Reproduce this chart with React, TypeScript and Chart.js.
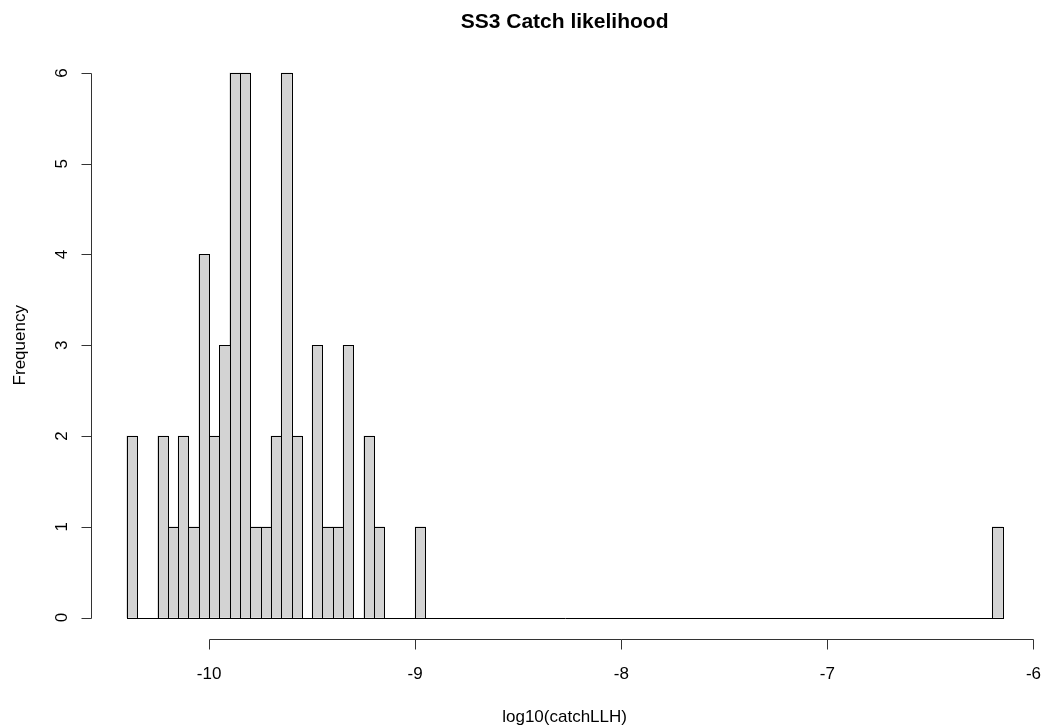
import React, { useEffect, useRef } from "react";
import { Chart, registerables } from "chart.js";

Chart.register(...registerables);

// Histogram of log10(catchLLH), bin width 0.05 (only non-empty bins listed)
const binWidth = 0.05;
const binLeft = [
  -10.4, -10.25, -10.2, -10.15, -10.1, -10.05, -10.0, -9.95, -9.9, -9.85,
  -9.8, -9.75, -9.7, -9.65, -9.6, -9.5, -9.45, -9.4, -9.35, -9.25, -9.2,
  -9.0, -6.2,
];
const counts = [
  2, 2, 1, 2, 1, 4, 2, 3, 6, 6,
  1, 1, 2, 6, 2, 3, 1, 1, 3, 2, 1,
  1, 1,
];
const breaksRange = [-10.4, -6.15];
const xTicks = [-10, -9, -8, -7, -6];
const yTicks = [0, 1, 2, 3, 4, 5, 6];

const titleText = "SS3 Catch likelihood";
const xLabel = "log10(catchLLH)";
const yLabel = "Frequency";

const FONT = "'Liberation Sans', Arial, sans-serif";

// Axis ranges extended by 4% like base graphics
const xSpan = breaksRange[1] - breaksRange[0];
const xMin = breaksRange[0] - 0.04 * xSpan;
const xMax = breaksRange[1] + 0.04 * xSpan;
const yTop = Math.max(...counts);
const yMin = -0.04 * yTop;
const yMax = yTop + 0.04 * yTop;

const decorPlugin = {
  id: "baseDecor",
  afterDatasetsDraw(chart: any) {
    const ctx = chart.ctx as CanvasRenderingContext2D;
    const xs = chart.scales.x;
    const ys = chart.scales.y;
    const area = chart.chartArea;

    ctx.save();
    ctx.strokeStyle = "#000";
    ctx.lineWidth = 1;

    // baseline across the empty bins
    const baseY = Math.round(ys.getPixelForValue(0)) + 0.5;
    ctx.beginPath();
    ctx.moveTo(Math.round(xs.getPixelForValue(breaksRange[0])) + 0.5, baseY);
    ctx.lineTo(Math.round(xs.getPixelForValue(breaksRange[1])) + 0.5, baseY);
    ctx.stroke();

    // bar outlines
    const meta = chart.getDatasetMeta(0);
    meta.data.forEach((bar: any) => {
      const props = bar.getProps(["x", "y", "base", "width"], true);
      const l = Math.round(props.x - props.width / 2) + 0.5;
      const r = Math.round(props.x + props.width / 2) + 0.5;
      const t = Math.round(props.y) + 0.5;
      const b = Math.round(props.base) + 0.5;
      ctx.strokeRect(l, t, r - l, b - t);
    });

    // x axis
    ctx.strokeStyle = "#333";
    const axY = Math.round(area.bottom) + 0.5;
    const x0 = Math.round(xs.getPixelForValue(xTicks[0])) + 0.5;
    const x1 = Math.round(xs.getPixelForValue(xTicks[xTicks.length - 1])) + 0.5;
    ctx.beginPath();
    ctx.moveTo(x0, axY);
    ctx.lineTo(x1, axY);
    xTicks.forEach((v) => {
      const px = Math.round(xs.getPixelForValue(v)) + 0.5;
      ctx.moveTo(px, axY);
      ctx.lineTo(px, axY + 10);
    });
    ctx.stroke();

    ctx.fillStyle = "#000";
    ctx.font = `17px ${FONT}`;
    ctx.textAlign = "center";
    ctx.textBaseline = "alphabetic";
    xTicks.forEach((v) => {
      ctx.fillText(String(v), xs.getPixelForValue(v), 679);
    });

    // y axis
    const axX = Math.round(area.left) - 0.5;
    const y0 = Math.round(ys.getPixelForValue(yTicks[0])) + 0.5;
    const y1 = Math.round(ys.getPixelForValue(yTicks[yTicks.length - 1])) + 0.5;
    ctx.beginPath();
    ctx.moveTo(axX, y0);
    ctx.lineTo(axX, y1);
    yTicks.forEach((v) => {
      const py = Math.round(ys.getPixelForValue(v)) + 0.5;
      ctx.moveTo(axX, py);
      ctx.lineTo(axX - 10, py);
    });
    ctx.stroke();

    yTicks.forEach((v) => {
      const py = ys.getPixelForValue(v);
      ctx.save();
      ctx.translate(67, py);
      ctx.rotate(-Math.PI / 2);
      ctx.textAlign = "center";
      ctx.fillText(String(v), 0, 0);
      ctx.restore();
    });

    // titles
    const midX = (area.left + area.right) / 2;
    ctx.textAlign = "center";
    ctx.font = `bold 21px ${FONT}`;
    ctx.fillText(titleText, midX, 28);
    ctx.font = `17px ${FONT}`;
    ctx.fillText(xLabel, midX, 722);
    ctx.save();
    ctx.translate(24.5, (area.top + area.bottom) / 2);
    ctx.rotate(-Math.PI / 2);
    ctx.fillText(yLabel, 0, 0);
    ctx.restore();

    ctx.restore();
  },
};

export default function App() {
  const canvasRef = useRef<HTMLCanvasElement | null>(null);

  useEffect(() => {
    const canvas = canvasRef.current;
    if (!canvas) return;
    const chart = new Chart(canvas, {
      type: "bar",
      data: {
        datasets: [
          {
            data: binLeft.map((l, i) => ({ x: l + binWidth / 2, y: counts[i] })),
            backgroundColor: "#D3D3D3",
            borderWidth: 0,
            barPercentage: 1,
            categoryPercentage: 1,
          } as any,
        ],
      },
      options: {
        responsive: false,
        animation: false,
        devicePixelRatio: 1,
        layout: {
          padding: { left: 91.6, right: 6.4, top: 51.2, bottom: 87.7 },
        },
        plugins: {
          legend: { display: false },
          tooltip: { enabled: false },
          title: { display: false },
        },
        scales: {
          x: { type: "linear", min: xMin, max: xMax, display: false, offset: false },
          y: { type: "linear", min: yMin, max: yMax, display: false },
        },
      },
      plugins: [decorPlugin],
    });
    return () => chart.destroy();
  }, []);

  return (
    <div style={{ position: "fixed", left: 0, top: 0, width: 1044, height: 727, background: "#fff" }}>
      <canvas ref={canvasRef} width={1044} height={727} style={{ display: "block" }} />
    </div>
  );
}
